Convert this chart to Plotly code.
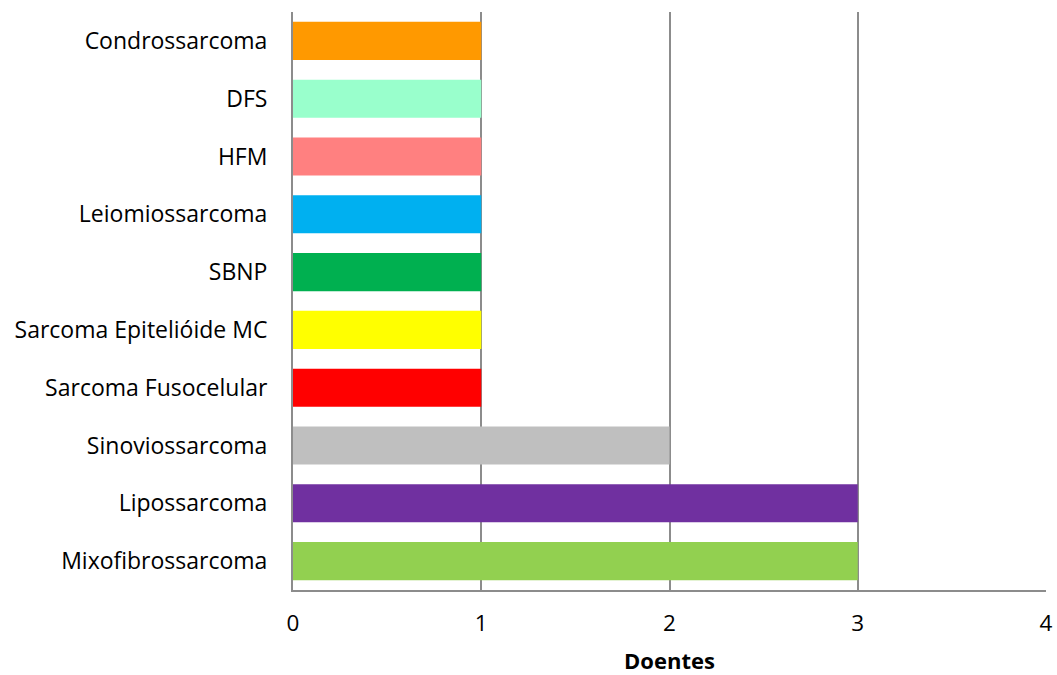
import plotly.graph_objects as go

# Tumour types (bottom to top) and number of patients
categories = [
    "Mixofibrossarcoma", "Lipossarcoma", "Sinoviossarcoma", "Sarcoma Fusocelular",
    "Sarcoma Epitelióide MC", "SBNP", "Leiomiossarcoma", "HFM", "DFS", "Condrossarcoma",
]
values = [3, 3, 2, 1, 1, 1, 1, 1, 1, 1]
colors = [
    "#92D050", "#7030A0", "#BFBFBF", "#FF0000", "#FFFF00",
    "#00B050", "#00B0F0", "#FF8080", "#99FFCC", "#FF9900",
]
x_ticks = [0, 1, 2, 3, 4]

font_family = "'Open Sans', sans-serif"

fig = go.Figure(go.Bar(
    x=values, y=categories, orientation="h",
    marker=dict(color=colors, line=dict(width=0)),
))

fig.update_layout(
    width=1057, height=675,
    margin=dict(l=293, r=11, t=12, b=85, autoexpand=False),
    paper_bgcolor="white", plot_bgcolor="white",
    bargap=0.34, showlegend=False,
    font=dict(family=font_family, size=22, color="#000000"),
)
fig.update_xaxes(
    range=[0, 4], tickvals=x_ticks, ticktext=[str(t) for t in x_ticks],
    showgrid=True, gridcolor="#8C8C8C", gridwidth=1.5,
    showline=True, linecolor="#8C8C8C", linewidth=2,
    ticks="outside", ticklen=12, tickcolor="white",
    tickfont=dict(size=22.5), automargin=False,
    zeroline=False,
    title=dict(text="<b>Doentes</b>", font=dict(size=22), standoff=22),
)
fig.update_yaxes(
    categoryorder="array", categoryarray=categories,
    showline=True, linecolor="#8C8C8C", linewidth=2,
    ticks="outside", ticklen=19, tickcolor="white",
    tickfont=dict(size=23), automargin=False,
    showgrid=False,
)

fig.write_html("out.html")
